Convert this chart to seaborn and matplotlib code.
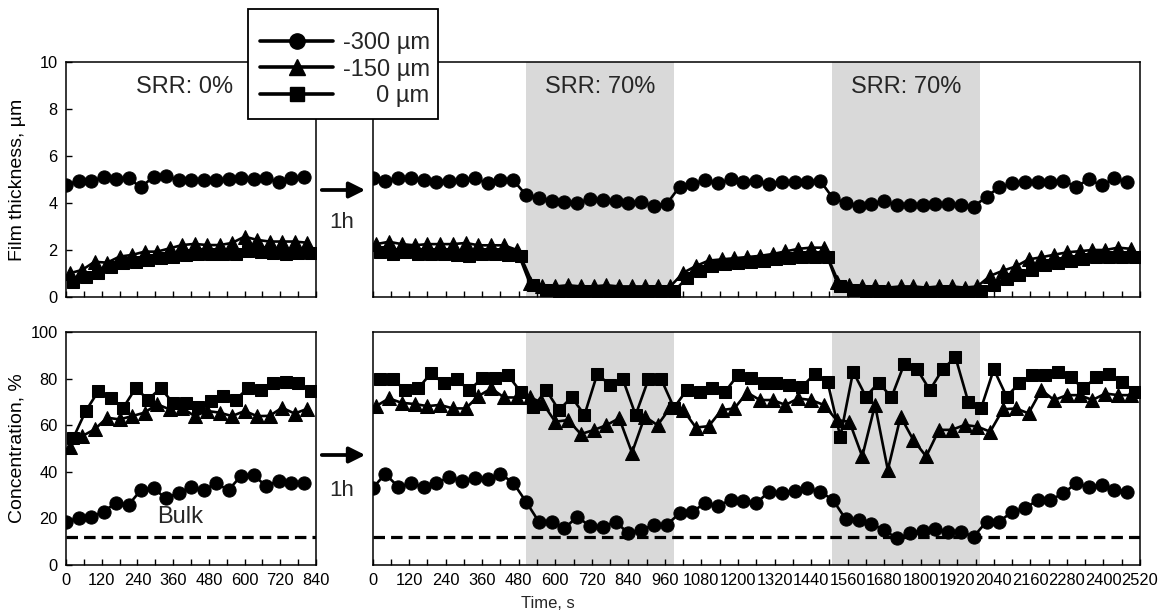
import numpy as np
import pandas as pd
import matplotlib
matplotlib.use("Agg")
import matplotlib.pyplot as plt
from matplotlib.lines import Line2D
from matplotlib.patches import Rectangle, FancyArrowPatch
import seaborn as sns

# ---------------- data ----------------
dt = 42            # s between successive points of one series
off_tri = 12       # time offset of -150 um series
off_sq = 24        # time offset of 0 um series

series_labels = ["-300 µm", "-150 µm", "     0 µm"]

# Left panels (SRR 0 %)
film_L_300 = [4.77, 4.95, 4.95, 5.09, 5.01, 5.05, 4.67, 5.12, 5.16, 4.98,
              4.98, 4.98, 4.98, 5.01, 5.08, 5.01, 5.08, 4.88, 5.05, 5.09]
film_L_150 = [1.01, 1.15, 1.50, 1.46, 1.72, 1.79, 1.93, 1.93, 2.07, 2.21,
              2.26, 2.21, 2.21, 2.30, 2.57, 2.43, 2.36, 2.36, 2.36, 2.31]
film_L_0 = [0.65, 0.87, 1.01, 1.29, 1.43, 1.50, 1.57, 1.65, 1.72, 1.79,
            1.83, 1.83, 1.83, 1.83, 1.97, 1.90, 1.86, 1.83, 1.86, 1.86]

conc_L_300 = [18.6, 20.0, 20.7, 22.9, 26.7, 25.8, 32.2, 32.9, 28.6, 31.0,
              33.3, 32.2, 35.0, 32.2, 38.2, 38.6, 33.9, 36.2, 35.0, 35.0]
conc_L_150 = [50.8, 55.3, 58.2, 63.2, 62.5, 63.9, 65.4, 69.0, 66.8, 67.5,
              63.9, 66.1, 65.4, 63.9, 66.1, 63.9, 64.0, 67.5, 65.0, 67.0]
conc_L_0 = [54.4, 66.0, 74.5, 71.7, 67.4, 75.9, 71.0, 75.9, 69.5, 69.5,
            68.0, 70.2, 72.6, 71.0, 75.9, 75.1, 78.0, 78.7, 78.0, 74.5]

# Right panels (SRR 0 % / 70 % / 0 % / 70 % / 0 %)
film_R_300 = [5.05, 4.95, 5.05, 5.05, 4.98, 4.91, 4.95, 4.98, 5.05, 4.84, 4.98, 4.98,
              4.34, 4.20, 4.10, 4.06, 4.01, 4.16, 4.13, 4.10, 3.99, 4.06, 3.87, 3.96,
              4.69, 4.81, 4.98, 4.84, 5.01, 4.91, 4.94, 4.82, 4.88, 4.88, 4.91, 4.95,
              4.20, 4.01, 3.87, 3.96, 4.10, 3.91, 3.91, 3.91, 3.96, 3.96, 3.91, 3.84,
              4.27, 4.67, 4.84, 4.91, 4.88, 4.91, 4.95, 4.69, 5.01, 4.75, 5.05, 4.91]
film_R_150 = [2.25, 2.35, 2.25, 2.20, 2.25, 2.25, 2.25, 2.30, 2.20, 2.20, 2.20, 2.00,
              0.60, 0.45, 0.45, 0.50, 0.45, 0.45, 0.50, 0.45, 0.45, 0.45, 0.45, 0.45,
              1.03, 1.32, 1.55, 1.60, 1.65, 1.70, 1.75, 1.83, 1.94, 2.05, 2.10, 2.10,
              0.65, 0.50, 0.45, 0.45, 0.40, 0.45, 0.45, 0.40, 0.45, 0.45, 0.40, 0.45,
              0.90, 1.12, 1.30, 1.60, 1.69, 1.80, 1.90, 1.95, 2.00, 2.00, 2.10, 2.05]
film_R_0 = [1.90, 1.85, 1.90, 1.85, 1.85, 1.85, 1.80, 1.75, 1.85, 1.85, 1.80, 1.75,
            0.50, 0.30, 0.25, 0.25, 0.25, 0.25, 0.20, 0.20, 0.20, 0.25, 0.25, 0.25,
            0.80, 1.10, 1.30, 1.40, 1.45, 1.50, 1.55, 1.60, 1.65, 1.70, 1.72, 1.72,
            0.45, 0.30, 0.25, 0.25, 0.20, 0.20, 0.20, 0.20, 0.25, 0.20, 0.20, 0.25,
            0.50, 0.75, 0.95, 1.15, 1.35, 1.45, 1.55, 1.60, 1.70, 1.72, 1.72, 1.70]

conc_R_300 = [32.9, 39.1, 33.6, 35.0, 33.6, 35.0, 37.9, 36.2, 37.2, 36.7, 39.1, 35.3,
              27.2, 18.6, 18.6, 15.7, 20.7, 16.7, 16.4, 18.6, 13.6, 15.0, 17.2, 17.2,
              22.2, 22.9, 26.5, 25.4, 27.9, 27.6, 26.5, 31.5, 30.8, 31.9, 32.9, 31.5,
              27.9, 19.6, 19.3, 17.6, 15.0, 11.4, 13.6, 14.7, 15.3, 14.3, 14.3, 12.2,
              18.6, 18.6, 22.9, 24.3, 27.9, 27.9, 30.8, 35.0, 33.6, 34.3, 32.2, 31.5]
conc_R_150 = [68.2, 71.5, 69.6, 69.1, 68.2, 68.7, 67.2, 67.2, 72.5, 75.8, 71.9, 71.9,
              72.0, 69.6, 61.5, 62.2, 56.2, 57.9, 60.0, 63.0, 48.2, 63.7, 60.0, 67.6,
              66.5, 59.0, 59.6, 66.5, 67.2, 74.0, 70.8, 70.8, 68.7, 71.5, 70.8, 68.7,
              62.2, 61.5, 46.6, 68.7, 40.8, 63.7, 53.6, 46.6, 58.0, 58.0, 60.1, 59.4,
              57.2, 66.8, 67.2, 65.1, 75.1, 70.8, 72.9, 72.9, 70.8, 73.6, 72.9, 72.9]
conc_R_0 = [79.7, 79.7, 75.1, 75.8, 82.3, 78.0, 79.7, 75.1, 80.1, 80.1, 81.6, 74.4,
            67.7, 75.1, 66.5, 72.0, 64.4, 82.0, 77.2, 79.7, 64.4, 79.7, 79.7, 67.5,
            75.1, 74.4, 75.8, 74.4, 81.6, 80.1, 78.0, 78.0, 77.2, 76.5, 82.0, 78.7,
            55.0, 83.0, 72.3, 78.3, 72.0, 86.3, 84.0, 75.1, 84.0, 89.2, 70.1, 67.2,
            84.0, 72.3, 78.0, 81.6, 81.6, 83.0, 80.5, 75.8, 80.5, 82.0, 78.7, 74.4]

bulk_conc = 12
srr_windows = [(504, 990), (1510, 1995)]
left_xmax, right_xmax = 840, 2520

# ---------------- style ----------------
sns.set_theme(style="white")
plt.rcParams["font.family"] = ["Liberation Sans", "DejaVu Sans"]
plt.rcParams["axes.edgecolor"] = "black"
plt.rcParams["axes.linewidth"] = 1.1

fig = plt.figure(figsize=(11.62, 6.12), dpi=100)
W, H = 1162, 612


def add_ax(x0, y0, x1, y1):
    return fig.add_axes([x0 / W, 1 - y1 / H, (x1 - x0) / W, (y1 - y0) / H])


axLT = add_ax(66, 62, 316, 297)
axRT = add_ax(372.5, 62, 1140, 297)
axLB = add_ax(66, 332, 316, 565)
axRB = add_ax(372.5, 332, 1140, 565)

markers = ["o", "^", "s"]
msizes = [9.5, 9.5, 8.5]
offsets = [0, off_tri, off_sq]


def draw(ax, values_list):
    for vals, mk, ms, off in zip(values_list, markers, msizes, offsets):
        t = np.arange(len(vals)) * dt + off
        df = pd.DataFrame({"t": t, "v": vals})
        sns.lineplot(data=df, x="t", y="v", ax=ax, color="black", marker=mk,
                     markersize=ms, markeredgecolor="black", linewidth=1.9,
                     estimator=None, sort=False, legend=False, zorder=3)


draw(axLT, [film_L_300, film_L_150, film_L_0])
draw(axRT, [film_R_300, film_R_150, film_R_0])
draw(axLB, [conc_L_300, conc_L_150, conc_L_0])
draw(axRB, [conc_R_300, conc_R_150, conc_R_0])

for ax in (axRT, axRB):
    for a, b in srr_windows:
        ax.axvspan(a, b, color="#d9d9d9", lw=0, zorder=0)

for ax in (axLB, axRB):
    ax.axhline(bulk_conc, color="black", lw=2.3, ls=(0, (3.6, 1.9)), zorder=2)

for ax, xmax in ((axLT, left_xmax), (axLB, left_xmax), (axRT, right_xmax), (axRB, right_xmax)):
    ax.set_xlim(0, xmax)
    ticks = np.arange(0, xmax + 1, 60)
    ax.set_xticks(ticks)
    ax.set_xlabel("")
    ax.set_ylabel("")
    ax.tick_params(axis="x", direction="in", length=4, width=1, colors="black",
                   labelsize=11.8, pad=6, bottom=True)
    for s in ax.spines.values():
        s.set_color("black")
        s.set_linewidth(1.1)

for ax in (axLT, axRT):
    ax.set_ylim(0, 10)
    ax.set_xticklabels([])
for ax in (axLB, axRB):
    ax.set_ylim(0, 100)
    xt = ax.get_xticks()
    ax.set_xticklabels([f"{int(v)}" if int(v) % 120 == 0 else "" for v in xt])

axLT.set_yticks(np.arange(0, 11, 2))
axLB.set_yticks(np.arange(0, 101, 20))
for ax in (axLT, axLB):
    ax.tick_params(axis="y", direction="in", length=4, width=1, colors="black",
                   labelsize=11.8, left=True, pad=6)
for ax in (axRT, axRB):
    ax.set_yticks(np.arange(0, 11, 2) if ax is axRT else np.arange(0, 101, 20))
    ax.tick_params(axis="y", left=False, labelleft=False)

axLT.set_ylabel("Film thickness, µm", fontsize=14, color="black")
axLB.set_ylabel("Concentration, %", fontsize=14, color="black")
for ax in (axLT, axLB):
    ax.yaxis.set_label_coords(-0.16, 0.5)

fig.text(548 / W, 1 - 603 / H, "Time, s", ha="center", va="center", fontsize=12)

# annotations
axLT.text(0.476, 0.894, "SRR: 0%", transform=axLT.transAxes, ha="center",
          va="center", fontsize=17)
for a, b in srr_windows:
    axRT.text((a + b) / 2, 8.94, "SRR: 70%", ha="center", va="center", fontsize=17)
axLB.text(383, 20.5, "Bulk", ha="center", va="center", fontsize=17)

for y_arrow, y_txt in ((190, 222), (455, 490)):
    fig.add_artist(FancyArrowPatch(
        (319 / W, 1 - y_arrow / H), (368 / W, 1 - y_arrow / H),
        transform=fig.transFigure, arrowstyle="-|>", mutation_scale=24,
        lw=2.7, color="black"))
    fig.text(342 / W, 1 - y_txt / H, "1h", ha="center", va="center", fontsize=16)

# legend: explicit frame box plus frameless legend inside it
box = Rectangle((248 / W, 1 - 119 / H), (438 - 248) / W, (119 - 9) / H,
                transform=fig.transFigure, facecolor="white", edgecolor="black",
                lw=1.3, zorder=8)
fig.add_artist(box)
handles = [Line2D([], [], color="black", marker=m, markersize=s, lw=2.6)
           for m, s in zip(markers, [11, 11, 10])]
leg = fig.legend(handles, series_labels, loc="upper left",
                 bbox_to_anchor=(260 / W, 1 - 32 / H), frameon=False,
                 fontsize=17, handlelength=3.1, handletextpad=0.4,
                 labelspacing=0.2, borderpad=0, borderaxespad=0)
leg.set_zorder(10)

fig.savefig("out.png", dpi=100)
